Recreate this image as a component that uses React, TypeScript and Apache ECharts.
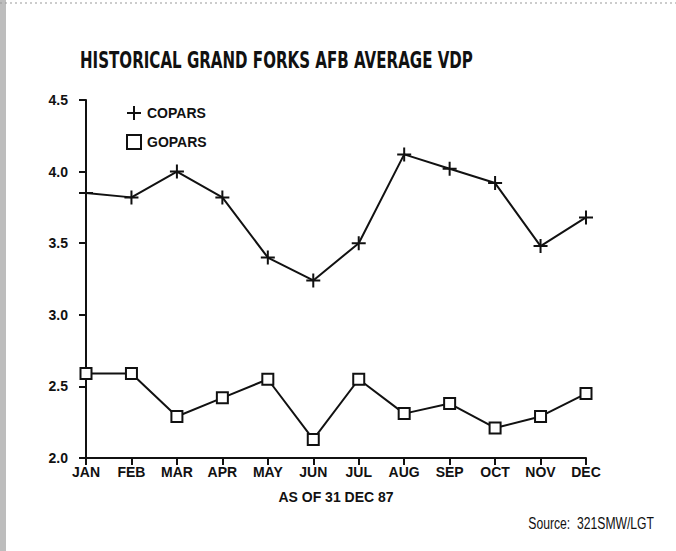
import React, { useEffect, useRef } from "react";
import * as echarts from "echarts";

const months = ["JAN", "FEB", "MAR", "APR", "MAY", "JUN", "JUL", "AUG", "SEP", "OCT", "NOV", "DEC"];
const copars = [3.85, 3.82, 4.0, 3.82, 3.4, 3.24, 3.5, 4.12, 4.02, 3.92, 3.48, 3.68];
const gopars = [2.59, 2.59, 2.29, 2.42, 2.55, 2.13, 2.55, 2.31, 2.38, 2.21, 2.29, 2.45];
const yTicks = [2.0, 2.5, 3.0, 3.5, 4.0, 4.5];

const LAB = "'Liberation Sans', Arial, sans-serif";
const PLUS = "path://M-1,-7H1V-1H7V1H1V7H-1V1H-7V-1H-1Z";

export default function App() {
  const ref = useRef<HTMLDivElement>(null);
  useEffect(() => {
    if (!ref.current) return;
    const chart = echarts.init(ref.current, undefined, { renderer: "svg" });
    chart.setOption({
      animation: false,
      backgroundColor: "#ffffff",
      legend: {
        orient: "vertical",
        left: 121,
        top: 101,
        itemGap: 14,
        itemWidth: 14,
        itemHeight: 14,
        textStyle: { fontFamily: LAB, fontWeight: "bold", fontSize: 14, color: "#111", padding: [0, 0, 0, 1] },
        data: [
          { name: "COPARS", icon: PLUS },
          { name: "GOPARS", icon: "rect", itemStyle: { color: "#fff", borderColor: "#111", borderWidth: 2 } },
        ],
      },
      grid: { left: 86, right: 90, top: 100, bottom: 93, containLabel: false },
      xAxis: {
        type: "category",
        data: months,
        boundaryGap: false,
        axisLine: { lineStyle: { color: "#111", width: 2 } },
        axisTick: { alignWithLabel: true, length: 7, lineStyle: { color: "#111", width: 2 } },
        axisLabel: {
          fontFamily: LAB,
          fontWeight: "bold",
          fontSize: 14,
          color: "#111",
          margin: 7,
          interval: 0,
        },
        name: "AS OF 31 DEC 87",
        nameLocation: "middle",
        nameGap: 32,
        nameTextStyle: { fontFamily: LAB, fontWeight: "bold", fontSize: 14, color: "#111" },
      },
      yAxis: {
        type: "value",
        min: 2.0,
        max: 4.5,
        interval: 0.5,
        splitLine: { show: false },
        axisLine: { show: true, lineStyle: { color: "#111", width: 2 } },
        axisTick: { show: true, length: 7, lineStyle: { color: "#111", width: 2 } },
        axisLabel: {
          fontFamily: LAB,
          fontWeight: "bold",
          fontSize: 14,
          color: "#111",
          margin: 18,
          formatter: (v: number) => (yTicks.includes(v) ? v.toFixed(1) : ""),
        },
      },
      series: [
        {
          name: "COPARS",
          type: "line",
          data: copars,
          symbol: PLUS,
          symbolSize: 14,
          lineStyle: { color: "#111", width: 2 },
          itemStyle: { color: "#111" },
        },
        {
          name: "GOPARS",
          type: "line",
          data: gopars,
          symbol: "rect",
          symbolSize: 11,
          showAllSymbol: true,
          lineStyle: { color: "#111", width: 2 },
          itemStyle: { color: "#ffffff", borderColor: "#111", borderWidth: 2 },
        },
      ],
      graphic: [
        {
          type: "rect",
          left: 0,
          top: 0,
          shape: { width: 6, height: 551 },
          style: { fill: "#bdbdbd" },
          silent: true,
        },
        {
          type: "line",
          shape: { x1: 0, y1: 3, x2: 676, y2: 3 },
          style: { stroke: "#999", lineWidth: 1, lineDash: [2, 3] },
          silent: true,
        },
        {
          type: "text",
          x: 80,
          y: 49,
          scaleX: 0.655,
          style: {
            text: "HISTORICAL GRAND FORKS AFB AVERAGE VDP",
            fontFamily: "'DejaVu Sans', sans-serif",
            fontWeight: "bold",
            fontSize: 23,
            fill: "#111",
            textAlign: "left",
            textVerticalAlign: "top",
          },
        },
        {
          type: "text",
          x: 654,
          y: 515,
          scaleX: 0.76,
          style: {
            text: "Source:  321SMW/LGT",
            fontFamily: LAB,
            fontSize: 16,
            fill: "#111",
            textAlign: "right",
            textVerticalAlign: "top",
          },
        },
      ],
    });
    return () => chart.dispose();
  }, []);
  return <div ref={ref} style={{ position: "fixed", left: 0, top: 0, width: 676, height: 551 }} />;
}
